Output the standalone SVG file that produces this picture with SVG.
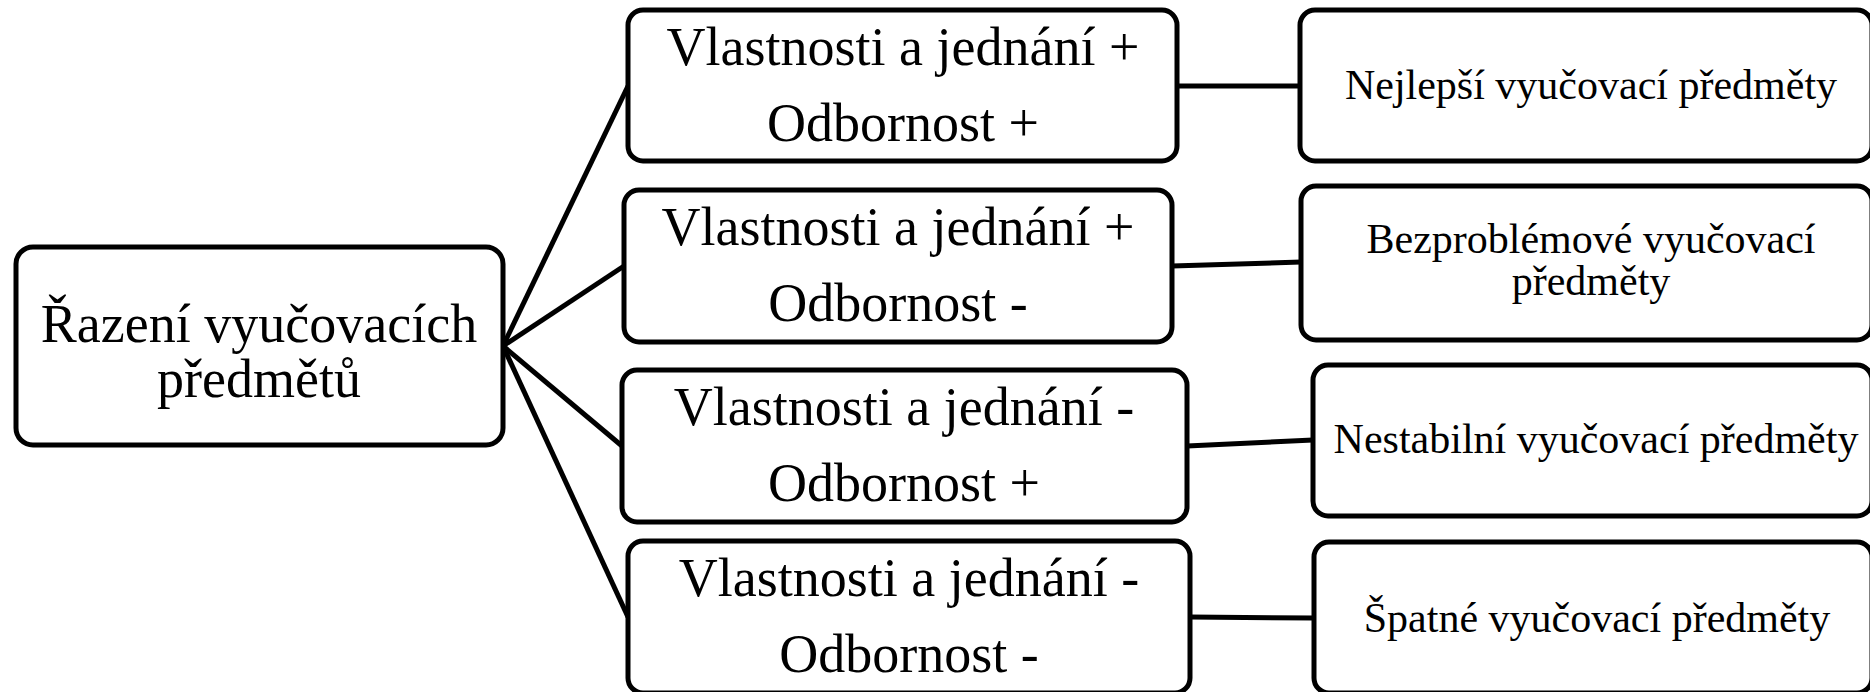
<svg xmlns="http://www.w3.org/2000/svg" width="1870" height="692" viewBox="0 0 1870 692">
<style>
.box{fill:#fff;stroke:#000;stroke-width:5}
.t{font-family:"Liberation Serif","Times New Roman","DejaVu Serif",serif;fill:#000;text-anchor:middle}
.big{font-size:54px}
.sm{font-size:42px}
.c{stroke:#000;stroke-width:5;fill:none}
</style>
<rect width="1870" height="692" fill="#fff"/>
<g id="connectors">
<line class="c" x1="503" y1="346" x2="628" y2="86"/>
<line class="c" x1="503" y1="346" x2="624" y2="266"/>
<line class="c" x1="503" y1="346" x2="622" y2="446"/>
<line class="c" x1="503" y1="346" x2="628" y2="617"/>
<line class="c" x1="1177" y1="86" x2="1300" y2="86"/>
<line class="c" x1="1172" y1="266" x2="1301" y2="262"/>
<line class="c" x1="1187" y1="446" x2="1313" y2="440"/>
<line class="c" x1="1190" y1="617" x2="1314" y2="618"/>
</g>
<g id="root">
<rect class="box" x="16" y="247" width="487" height="198" rx="17"/>
<text class="t big" x="259" y="342">Řazení vyučovacích</text>
<text class="t big" x="259" y="397">předmětů</text>
</g>
<g id="m1">
<rect class="box" x="628" y="10" width="549" height="151" rx="15"/>
<text class="t big" x="903" y="65">Vlastnosti a jednání +</text>
<text class="t big" x="903" y="141">Odbornost +</text>
</g>
<g id="m2">
<rect class="box" x="624" y="190" width="548" height="152" rx="15"/>
<text class="t big" x="898" y="245">Vlastnosti a jednání +</text>
<text class="t big" x="898" y="321">Odbornost -</text>
</g>
<g id="m3">
<rect class="box" x="622" y="370" width="565" height="152" rx="15"/>
<text class="t big" x="904" y="425">Vlastnosti a jednání -</text>
<text class="t big" x="904" y="501">Odbornost +</text>
</g>
<g id="m4">
<rect class="box" x="628" y="541" width="562" height="152" rx="15"/>
<text class="t big" x="909" y="596">Vlastnosti a jednání -</text>
<text class="t big" x="909" y="672">Odbornost -</text>
</g>
<g id="r1">
<rect class="box" x="1300" y="10" width="572" height="151" rx="15"/>
<text class="t sm" x="1591" y="99">Nejlepší vyučovací předměty</text>
</g>
<g id="r2">
<rect class="box" x="1301" y="186" width="571" height="154" rx="15"/>
<text class="t sm" x="1591" y="253">Bezproblémové vyučovací</text>
<text class="t sm" x="1591" y="295">předměty</text>
</g>
<g id="r3">
<rect class="box" x="1313" y="365" width="559" height="151" rx="15"/>
<text class="t sm" x="1596" y="453">Nestabilní vyučovací předměty</text>
</g>
<g id="r4">
<rect class="box" x="1314" y="542" width="558" height="151" rx="15"/>
<text class="t sm" x="1597" y="632">Špatné vyučovací předměty</text>
</g>
</svg>
